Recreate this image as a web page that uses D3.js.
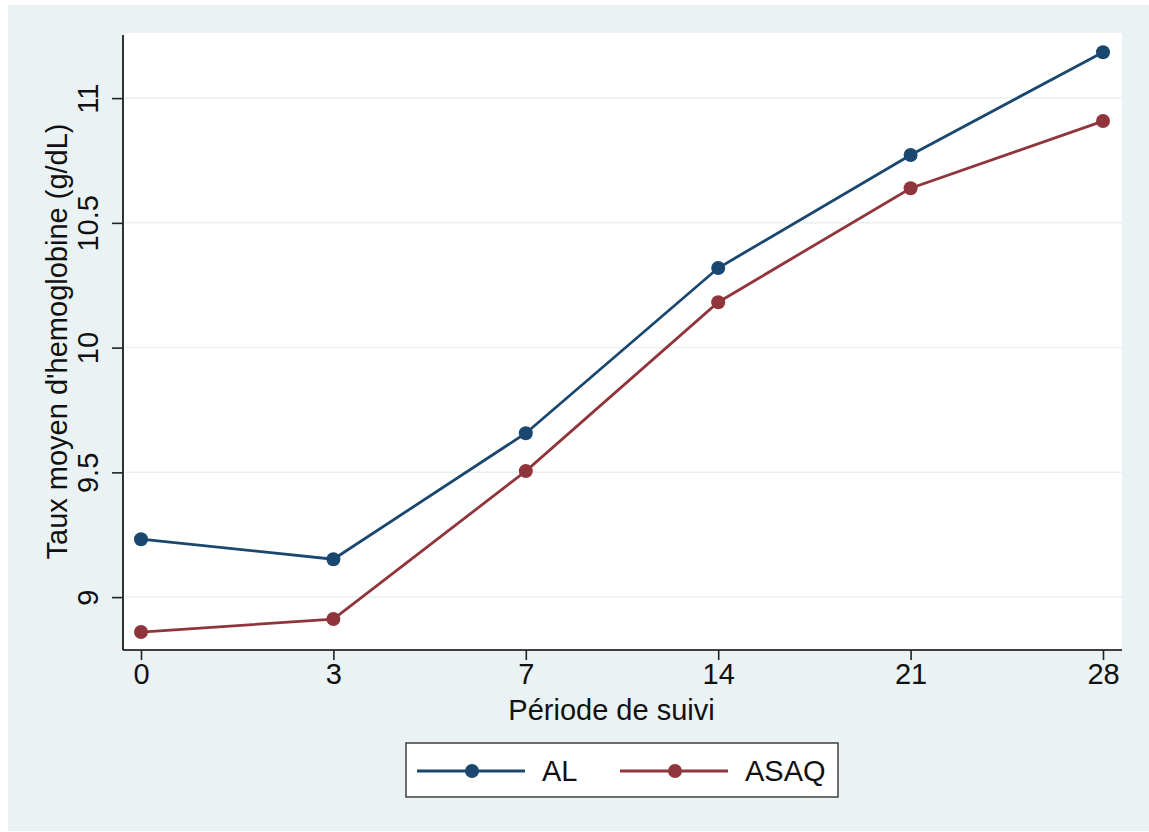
<!DOCTYPE html>
<html>
<head>
<meta charset="utf-8">
<script src="https://cdn.jsdelivr.net/npm/d3@7"></script>
<style>
    body {
        margin: 0;
        background: white;
        font-family: "Liberation Sans", Arial, sans-serif;
    }
    svg text {
        fill: #111;
    }
</style>
</head>
<body>
<svg id="chart"></svg>
<script>
    // data
    let periods = ["0", "3", "7", "14", "21", "28"]
    let alValues = [9.232, 9.152, 9.657, 10.319, 10.772, 11.184]
    let asaqValues = [8.86, 8.912, 9.505, 10.182, 10.639, 10.908]
    let yTicks = [9, 9.5, 10, 10.5, 11]
    let seriesNames = ["AL", "ASAQ"]
    let seriesColors = ["#1a476f", "#90353b"]

    let width = 1149
    let height = 832
    let margin = { top: 33, bottom: 182, left: 123, right: 27 }
    let bodyWidth = width - margin.left - margin.right
    let bodyHeight = height - margin.top - margin.bottom
    let fontSize = 29

    let svg = d3.select("#chart")
        .attr("width", width)
        .attr("height", height)

    // outer panel
    svg.append("rect")
        .attr("x", 8).attr("y", 5)
        .attr("width", width - 8).attr("height", height - 6)
        .attr("fill", "#eaf2f3")

    // plot region
    svg.append("rect")
        .attr("x", margin.left).attr("y", margin.top)
        .attr("width", bodyWidth).attr("height", bodyHeight)
        .attr("fill", "white")

    let xScale = d3.scalePoint()
        .domain(periods)
        .range([18, bodyWidth - 19])

    let yScale = d3.scaleLinear()
        .domain([8.788, 11.261])
        .range([bodyHeight, 0])

    let body = svg.append("g")
        .attr("transform", `translate(${margin.left},${margin.top})`)

    // grid lines
    body.selectAll(".grid")
        .data(yTicks)
        .enter().append("line")
        .attr("x1", 2).attr("x2", bodyWidth)
        .attr("y1", d => yScale(d)).attr("y2", d => yScale(d))
        .attr("stroke", "#eaeff0")
        .attr("stroke-width", 1.5)

    // axes
    let axisX = d3.axisBottom(xScale).tickSize(10).tickPadding(4)
    let gx = body.append("g")
        .attr("transform", `translate(0,${bodyHeight})`)
        .call(axisX)
    gx.select(".domain").attr("d", `M0,0H${bodyWidth}`)
    gx.selectAll("line").attr("stroke", "#222")
    gx.selectAll("text")
        .attr("font-size", fontSize)
        .attr("font-family", "Liberation Sans, Arial, sans-serif")
        .attr("fill", "#111")
        .attr("dy", "0.7em")

    let axisY = d3.axisLeft(yScale).tickValues(yTicks).tickSize(11).tickPadding(14)
        .tickFormat(d3.format("~g"))
    let gy = body.append("g").call(axisY)
    gy.select(".domain").attr("d", `M0,${bodyHeight}V2`)
    gy.selectAll("line").attr("stroke", "#222")
    gy.selectAll("text")
        .attr("font-size", fontSize)
        .attr("font-family", "Liberation Sans, Arial, sans-serif")
        .attr("fill", "#111")
        .attr("text-anchor", "middle")
        .attr("x", null).attr("dy", null)
        .attr("transform", "translate(-25,0) rotate(-90)")
    gy.selectAll(".domain, line").attr("stroke-width", 1.6)
    gx.selectAll(".domain, line").attr("stroke-width", 1.6)

    // axis titles
    svg.append("text")
        .attr("x", margin.left + bodyWidth / 2 - 11)
        .attr("y", 720)
        .attr("text-anchor", "middle")
        .attr("font-size", fontSize)
        .text("Période de suivi")

    svg.append("text")
        .attr("transform", `translate(67,${margin.top + bodyHeight / 2}) rotate(-90)`)
        .attr("text-anchor", "middle")
        .attr("font-size", fontSize)
        .text("Taux moyen d'hemoglobine (g/dL)")

    // series
    let series = [alValues, asaqValues]
    let line = d3.line()
        .x((d, i) => xScale(periods[i]))
        .y(d => yScale(d))

    series.forEach((values, s) => {
        body.append("path")
            .datum(values)
            .attr("d", line)
            .attr("fill", "none")
            .attr("stroke", seriesColors[s])
            .attr("stroke-width", 2.8)

        body.selectAll(".pt" + s)
            .data(values)
            .enter().append("circle")
            .attr("cx", (d, i) => xScale(periods[i]))
            .attr("cy", d => yScale(d))
            .attr("r", 7)
            .attr("fill", seriesColors[s])
    })

    // legend
    let legend = svg.append("g").attr("transform", "translate(406,743)")
    legend.append("rect")
        .attr("width", 432).attr("height", 54)
        .attr("fill", "white")
        .attr("stroke", "#333")
        .attr("stroke-width", 1.4)

    let items = legend.selectAll(".item")
        .data(seriesNames)
        .enter().append("g")
        .attr("transform", (d, i) => `translate(${11 + i * 203},28)`)
    items.append("line")
        .attr("x1", 0).attr("x2", 108)
        .attr("stroke", (d, i) => seriesColors[i])
        .attr("stroke-width", 2.8)
    items.append("circle")
        .attr("cx", 55).attr("r", 7)
        .attr("fill", (d, i) => seriesColors[i])
    items.append("text")
        .attr("x", 125)
        .attr("dy", "0.36em")
        .attr("font-size", fontSize)
        .text(d => d)
</script>
</body>
</html>
